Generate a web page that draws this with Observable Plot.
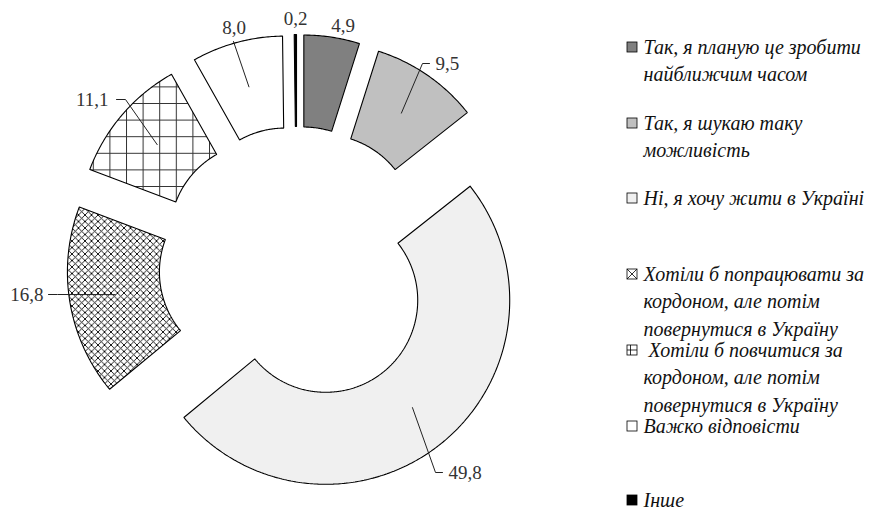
<!DOCTYPE html>
<html>
<head>
<meta charset="utf-8">
<script src="https://cdn.jsdelivr.net/npm/d3@7"></script>
<script src="https://cdn.jsdelivr.net/npm/@observablehq/plot@0.6"></script>
<style>
  html, body { margin: 0; padding: 0; background: #fff; }
  #chart svg { display: block; }
</style>
</head>
<body>
<div id="chart"></div>
<script>
// ---- data ----
const categories = [
  "Так, я планую це зробити\nнайближчим часом",
  "Так, я шукаю таку\nможливість",
  "Ні, я хочу жити в Україні",
  "Хотіли б попрацювати за\nкордоном, але потім\nповернутися в Україну",
  "\u00a0Хотіли б повчитися за\nкордоном, але потім\nповернутися в Україну",
  "Важко відповісти",
  "Інше"
];
const values = [4.9, 9.5, 49.8, 16.8, 11.1, 8.0, 0.2];
const valueLabels = ["4,9", "9,5", "49,8", "16,8", "11,1", "8,0", "0,2"];

// ---- styles / layout ----
const sliceFills  = ["#808080", "#c0c0c0", "#f0f0f0", "url(#hatchCross)", "url(#hatchGrid)", "#ffffff", "#000000"];
const legendFills = ["#808080", "#c0c0c0", "#f0f0f0", "url(#legCross)", "url(#legGrid)", "#ffffff", "#000000"];

const W = 874, H = 510;
const CX = 296.3, CY = 264;          // pixel position of the doughnut centre
const R_OUT = 184, R_IN = 92, EXPLODE = 46;
const X = px => px - CX;             // pixel -> chart units (centre-based, y up)
const Y = py => CY - py;

// value-label placement (pixels, as dragged in the reference)
const labelAt = [
  {x: 342.5, y: 25,  anchor: "middle"},
  {x: 435,   y: 63,  anchor: "start",  end: [429, 63]},
  {x: 448,   y: 472, anchor: "start",  end: [442, 472]},
  {x: 43,    y: 294.5, anchor: "end",  end: [48, 294]},
  {x: 108,   y: 99,  anchor: "end",    end: [116, 99]},
  {x: 233.5, y: 27,  anchor: "middle", end: [233, 41]},
  {x: 295,   y: 18,  anchor: "middle"}
];
const legendCenters = [47, 123, 198, 274, 350, 426, 500];
const LEG_SQ_X = 627, LEG_SQ = 10, LEG_TEXT_X = 643, LEG_LINE = 27.5;

// ---- geometry from the data ----
const arcs = d3.pie().sort(null).value(d => d)(values);

function slicePoints(a, i) {
  const mid = (a.startAngle + a.endAngle) / 2;
  const ox = EXPLODE * Math.sin(mid), oy = EXPLODE * Math.cos(mid);
  const n = Math.max(2, Math.ceil((a.endAngle - a.startAngle) / 0.01));
  const pts = [];
  for (let k = 0; k <= n; k++) {
    const t = a.startAngle + (a.endAngle - a.startAngle) * k / n;
    pts.push({x: ox + R_OUT * Math.sin(t), y: oy + R_OUT * Math.cos(t), i});
  }
  for (let k = n; k >= 0; k--) {
    const t = a.startAngle + (a.endAngle - a.startAngle) * k / n;
    pts.push({x: ox + R_IN * Math.sin(t), y: oy + R_IN * Math.cos(t), i});
  }
  pts.push({...pts[0]});
  return pts;
}

function leaderPoints(a, i) {
  const L = labelAt[i];
  if (!L.end) return null;
  const mid = (a.startAngle + a.endAngle) / 2;
  const rm = (R_OUT + R_IN) / 2;
  const start = {x: (EXPLODE + rm) * Math.sin(mid), y: (EXPLODE + rm) * Math.cos(mid)};
  const end = {x: X(L.end[0]), y: Y(L.end[1])};
  const pts = [start];
  if (L.anchor === "start") pts.push({x: end.x - 7, y: end.y});
  if (L.anchor === "end") pts.push({x: end.x + 9, y: end.y});
  pts.push(end);
  return pts;
}

const marks = [];
arcs.forEach((a, i) => {
  marks.push(Plot.line(slicePoints(a, i), {
    x: "x", y: "y", fill: sliceFills[i], stroke: "black",
    strokeWidth: 1.1, strokeLinejoin: "miter", curve: "linear"
  }));
});
arcs.forEach((a, i) => {
  const lp = leaderPoints(a, i);
  if (lp) marks.push(Plot.line(lp, {x: "x", y: "y", stroke: "#222", strokeWidth: 1}));
});
["start", "middle", "end"].forEach(anchor => {
  const idx = d3.range(values.length).filter(i => labelAt[i].anchor === anchor);
  marks.push(Plot.text(idx, {
    x: i => X(labelAt[i].x),
    y: i => Y(labelAt[i].y),
    text: i => valueLabels[i],
    textAnchor: anchor,
    fontSize: 19, fontFamily: "'Liberation Serif', 'DejaVu Serif', serif", fill: "#333"
  }));
});

// legend
categories.forEach((c, i) => {
  marks.push(Plot.rect([i], {
    x1: () => X(LEG_SQ_X), x2: () => X(LEG_SQ_X + LEG_SQ),
    y1: () => Y(legendCenters[i] - LEG_SQ / 2), y2: () => Y(legendCenters[i] + LEG_SQ / 2),
    fill: legendFills[i], stroke: "black", strokeWidth: 0.8
  }));
});
const legendLines = categories.flatMap((c, i) =>
  c.split("\n").map((t, li) => ({i, li, t})));
marks.push(Plot.text(legendLines, {
  x: () => X(LEG_TEXT_X),
  y: d => Y(legendCenters[d.i] + d.li * LEG_LINE),
  text: "t",
  textAnchor: "start",
  fontSize: 20, fontStyle: "italic", fontFamily: "'Liberation Serif', 'DejaVu Serif', serif", fill: "#111"
}));

const svg = Plot.plot({
  width: W, height: H, margin: 0,
  x: {domain: [-CX, W - CX], range: [0, W], axis: null},
  y: {domain: [CY - H, CY], range: [H, 0], axis: null},
  marks
});

const defs = `<defs>
  <pattern id="hatchCross" patternUnits="userSpaceOnUse" width="6.5" height="6.5">
    <rect width="6.5" height="6.5" fill="#fff"/>
    <path d="M-1,-1L7.5,7.5M7.5,-1L-1,7.5" stroke="#000" stroke-width="0.9"/>
  </pattern>
  <pattern id="hatchGrid" patternUnits="userSpaceOnUse" x="125.5" y="102.5" width="16.6" height="16.6">
    <rect width="16.6" height="16.6" fill="#fff"/>
    <path d="M0.5,0V16.6M0,0.5H16.6" stroke="#333" stroke-width="1"/>
  </pattern>
  <pattern id="legCross" patternContentUnits="objectBoundingBox" width="1" height="1">
    <rect width="1" height="1" fill="#fff"/>
    <path d="M0,0L1,1M1,0L0,1" stroke="#000" stroke-width="0.08"/>
  </pattern>
  <pattern id="legGrid" patternContentUnits="objectBoundingBox" width="1" height="1">
    <rect width="1" height="1" fill="#fff"/>
    <path d="M0.35,0V1M0,0.5H1" stroke="#000" stroke-width="0.08"/>
  </pattern>
</defs>`;
svg.insertAdjacentHTML("afterbegin", defs);
document.getElementById("chart").appendChild(svg);
</script>
</body>
</html>
